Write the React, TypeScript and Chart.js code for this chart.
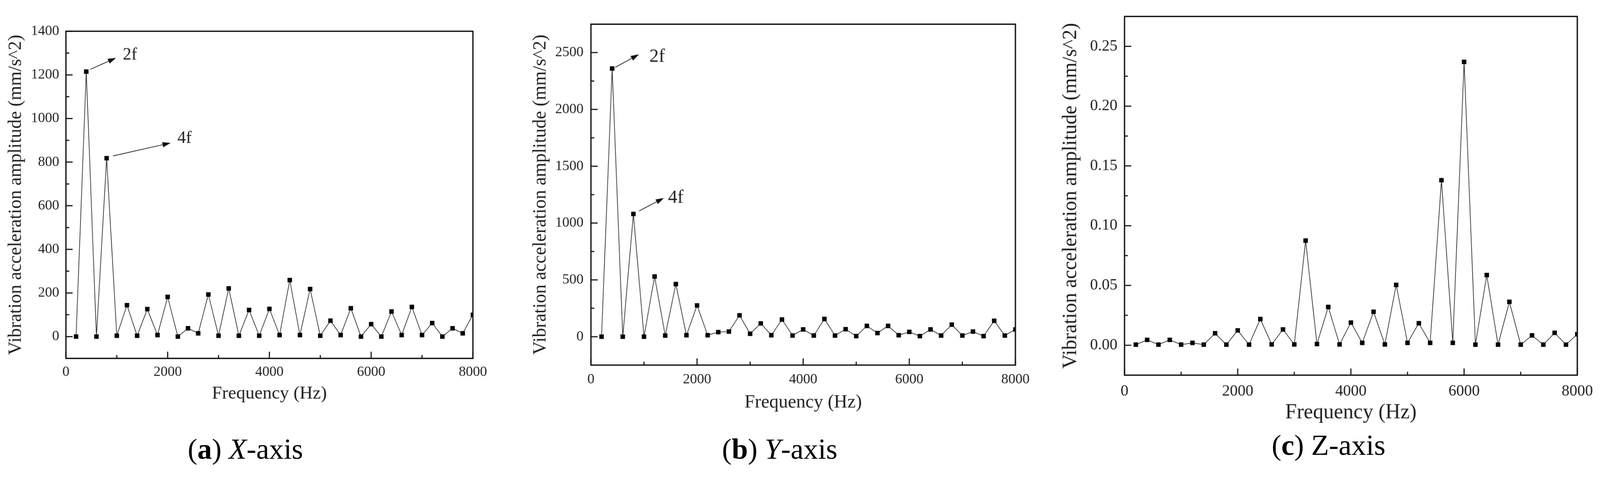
import React, { useEffect, useRef } from 'react';
import { Chart, registerables } from 'chart.js';

Chart.register(...registerables);

// ---------- data ----------
const frequencies = [
  200, 400, 600, 800, 1000, 1200, 1400, 1600, 1800, 2000,
  2200, 2400, 2600, 2800, 3000, 3200, 3400, 3600, 3800, 4000,
  4200, 4400, 4600, 4800, 5000, 5200, 5400, 5600, 5800, 6000,
  6200, 6400, 6600, 6800, 7000, 7200, 7400, 7600, 7800, 8000,
];

const xAxisAmplitude = [
  0, 1215, 0, 818, 4, 144, 4, 126, 7, 182,
  0, 38, 15, 193, 4, 221, 4, 122, 4, 127,
  7, 259, 7, 218, 4, 73, 7, 130, 0, 57,
  0, 115, 7, 136, 7, 62, 0, 38, 15, 100,
];

const yAxisAmplitude = [
  0, 2360, 0, 1080, 0, 530, 10, 463, 13, 275,
  13, 40, 45, 188, 26, 117, 13, 151, 10, 64,
  10, 156, 10, 66, 5, 95, 32, 95, 13, 42,
  5, 64, 10, 106, 10, 45, 5, 140, 10, 64,
];

const zAxisAmplitude = [
  0.0005, 0.0045, 0.0005, 0.0045, 0.0005, 0.002, 0.0005, 0.01, 0.0005, 0.0124,
  0.0005, 0.0219, 0.0007, 0.0132, 0.0007, 0.0875, 0.001, 0.032, 0.0007, 0.019,
  0.002, 0.028, 0.0007, 0.0505, 0.002, 0.0184, 0.002, 0.138, 0.002, 0.237,
  0.0005, 0.0587, 0.0005, 0.0363, 0.0005, 0.0082, 0.0005, 0.0104, 0.0005, 0.0092,
];

const xTickValues = [0, 2000, 4000, 6000, 8000];
const xMinorTickValues = [1000, 3000, 5000, 7000];
const yTicksX = [0, 200, 400, 600, 800, 1000, 1200, 1400];
const yTicksY = [0, 500, 1000, 1500, 2000, 2500];
const yTicksZ = [0, 0.05, 0.1, 0.15, 0.2, 0.25];

const peakFreqsX = [400, 800];
const peakFreqsY = [400, 800];
const peakNames = ['2f', '4f'];

const xTitle = 'Frequency (Hz)';
const yTitle = 'Vibration acceleration amplitude (mm/s^2)';

// ---------- layout / styles ----------
const PAGE_W = 4297;
const PAGE_H = 1273;

type Ann = { freq: number; text: string; start: [number, number]; end: [number, number]; at: [number, number]; size: number };
type Panel = {
  values: number[];
  yTicks: number[];
  yMin: number;
  yMax: number;
  decimals: number;
  canvas: { left: number; top: number; width: number; height: number };
  area: { left: number; top: number; right: number; bottom: number };
  tickFont: number;
  xTickPad: number;
  yTickPad: number;
  yTitleFont: number;
  yTitlePad: number;
  xTitleFont: number;
  xTitlePad: number;
  annotations: Ann[];
};

const SERIF = '"Liberation Serif", "Times New Roman", serif';

const panels: Panel[] = [
  {
    values: xAxisAmplitude,
    yTicks: yTicksX,
    yMin: -100,
    yMax: 1400,
    decimals: 0,
    canvas: { left: 0, top: 0, width: 1400, height: 1140 },
    area: { left: 177, top: 84, right: 1270, bottom: 963 },
    tickFont: 38,
    xTickPad: 14,
    yTickPad: 18,
    yTitleFont: 50,
    yTitlePad: 13,
    xTitleFont: 49,
    xTitlePad: 52,
    annotations: [
      { freq: peakFreqsX[0], text: peakNames[0], start: [11, -6], end: [80, -37], at: [98, -32], size: 46 },
      { freq: peakFreqsX[1], text: peakNames[1], start: [17, -6], end: [172, -41], at: [190, -41], size: 46 },
    ],
  },
  {
    values: yAxisAmplitude,
    yTicks: yTicksY,
    yMin: -250,
    yMax: 2750,
    decimals: 0,
    canvas: { left: 1420, top: 0, width: 1420, height: 1160 },
    area: { left: 1587, top: 65, right: 2727, bottom: 981 },
    tickFont: 38,
    xTickPad: 16,
    yTickPad: 20,
    yTitleFont: 50,
    yTitlePad: 2,
    xTitleFont: 50,
    xTitlePad: 48,
    annotations: [
      { freq: peakFreqsY[0], text: peakNames[0], start: [8, -3], end: [72, -38], at: [100, -18], size: 50 },
      { freq: peakFreqsY[1], text: peakNames[1], start: [15, -8], end: [82, -43], at: [93, -30], size: 50 },
    ],
  },
  {
    values: zAxisAmplitude,
    yTicks: yTicksZ,
    yMin: -0.025,
    yMax: 0.275,
    decimals: 2,
    canvas: { left: 2840, top: 0, width: 1457, height: 1200 },
    area: { left: 3020, top: 29, right: 4240, bottom: 1008 },
    tickFont: 42,
    xTickPad: 19,
    yTickPad: 19,
    yTitleFont: 54,
    yTitlePad: 3,
    xTitleFont: 56,
    xTitlePad: 57,
    annotations: [],
  },
];

const captions = [
  { center: 659, baseline: 1233, label: 'a', axis: 'X', italic: true },
  { center: 2094, baseline: 1233, label: 'b', axis: 'Y', italic: true },
  { center: 3568, baseline: 1222, label: 'c', axis: 'Z', italic: false },
];

function midpoints(vals: number[]): number[] {
  const out: number[] = [];
  for (let i = 0; i < vals.length - 1; i++) out.push((vals[i] + vals[i + 1]) / 2);
  return out;
}

function PanelChart({ p }: { p: Panel }) {
  const ref = useRef<HTMLCanvasElement | null>(null);
  useEffect(() => {
    if (!ref.current) return;
    const frame = {
      id: 'frame',
      afterDraw(chart: any) {
        const { ctx, chartArea: a, scales } = chart;
        const xs = scales.x;
        const ys = scales.y;
        ctx.save();
        ctx.strokeStyle = '#111';
        ctx.lineWidth = 3;
        ctx.lineCap = 'butt';
        ctx.beginPath();
        xTickValues.forEach((v) => {
          const px = xs.getPixelForValue(v);
          ctx.moveTo(px, a.bottom);
          ctx.lineTo(px, a.bottom - 18);
        });
        xMinorTickValues.forEach((v) => {
          const px = xs.getPixelForValue(v);
          ctx.moveTo(px, a.bottom);
          ctx.lineTo(px, a.bottom - 9);
        });
        p.yTicks.forEach((v) => {
          const py = ys.getPixelForValue(v);
          ctx.moveTo(a.left, py);
          ctx.lineTo(a.left + 18, py);
        });
        midpoints(p.yTicks).forEach((v) => {
          const py = ys.getPixelForValue(v);
          ctx.moveTo(a.left, py);
          ctx.lineTo(a.left + 9, py);
        });
        ctx.stroke();
        ctx.lineWidth = 3.5;
        ctx.strokeRect(a.left, a.top, a.right - a.left, a.bottom - a.top);

        p.annotations.forEach((an) => {
          const idx = frequencies.indexOf(an.freq);
          const mx = xs.getPixelForValue(an.freq);
          const my = ys.getPixelForValue(p.values[idx]);
          const sx = mx + an.start[0];
          const sy = my + an.start[1];
          const ex = mx + an.end[0];
          const ey = my + an.end[1];
          const ang = Math.atan2(ey - sy, ex - sx);
          const hl = 22;
          const hw = 7;
          const bx = ex - hl * Math.cos(ang);
          const by = ey - hl * Math.sin(ang);
          ctx.strokeStyle = '#222';
          ctx.lineWidth = 2;
          ctx.beginPath();
          ctx.moveTo(sx, sy);
          ctx.lineTo(bx, by);
          ctx.stroke();
          ctx.fillStyle = '#111';
          ctx.beginPath();
          ctx.moveTo(ex, ey);
          ctx.lineTo(bx + hw * Math.sin(ang), by - hw * Math.cos(ang));
          ctx.lineTo(bx - hw * Math.sin(ang), by + hw * Math.cos(ang));
          ctx.closePath();
          ctx.fill();
          ctx.fillStyle = '#222';
          ctx.font = `${an.size}px ${SERIF}`;
          ctx.textAlign = 'left';
          ctx.textBaseline = 'alphabetic';
          ctx.fillText(an.text, mx + an.at[0], my + an.at[1]);
        });
        ctx.restore();
      },
    };

    const chart = new Chart(ref.current, {
      type: 'line',
      data: {
        datasets: [
          {
            data: frequencies.map((f, i) => ({ x: f, y: p.values[i] })),
            borderColor: '#2a2a2a',
            borderWidth: 1.8,
            pointStyle: 'rect',
            pointRadius: 8.5,
            pointBackgroundColor: '#000',
            pointBorderWidth: 0,
            tension: 0,
            fill: false,
          },
        ],
      },
      options: {
        animation: false,
        responsive: false,
        maintainAspectRatio: false,
        devicePixelRatio: 1,
        events: [],
        layout: {
          padding: {
            left: 0,
            top: p.area.top - p.canvas.top,
            right: p.canvas.left + p.canvas.width - p.area.right,
            bottom: 0,
          },
        },
        plugins: { legend: { display: false }, tooltip: { enabled: false } },
        scales: {
          x: {
            type: 'linear',
            min: 0,
            max: 8000,
            grid: { display: false, drawTicks: false },
            border: { display: false },
            ticks: {
              font: { family: SERIF, size: p.tickFont },
              color: '#222',
              padding: p.xTickPad,
              maxRotation: 0,
              minRotation: 0,
              autoSkip: false,
              callback: (v: any) => String(v),
            },
            afterBuildTicks: (s: any) => {
              s.ticks = xTickValues.map((v) => ({ value: v }));
            },
            afterFit: (s: any) => {
              s.height = p.canvas.top + p.canvas.height - p.area.bottom;
            },
            title: {
              display: true,
              text: xTitle,
              color: '#222',
              font: { family: SERIF, size: p.xTitleFont },
              padding: { top: 0, bottom: p.xTitlePad },
            },
          },
          y: {
            type: 'linear',
            min: p.yMin,
            max: p.yMax,
            grid: { display: false, drawTicks: false },
            border: { display: false },
            ticks: {
              font: { family: SERIF, size: p.tickFont },
              color: '#222',
              padding: p.yTickPad,
              autoSkip: false,
              callback: (v: any) => Number(v).toFixed(p.decimals),
            },
            afterBuildTicks: (s: any) => {
              s.ticks = p.yTicks.map((v) => ({ value: v }));
            },
            afterFit: (s: any) => {
              s.width = p.area.left - p.canvas.left;
            },
            title: {
              display: true,
              text: yTitle,
              color: '#222',
              font: { family: SERIF, size: p.yTitleFont },
              padding: { top: p.yTitlePad, bottom: 0 },
            },
          },
        },
      },
      plugins: [frame],
    } as any);
    return () => chart.destroy();
  }, [p]);

  return (
    <canvas
      ref={ref}
      width={p.canvas.width}
      height={p.canvas.height}
      style={{
        position: 'absolute',
        left: p.canvas.left,
        top: p.canvas.top,
        width: p.canvas.width,
        height: p.canvas.height,
      }}
    />
  );
}

export default function App() {
  const vw = typeof window !== 'undefined' && window.innerWidth ? window.innerWidth : PAGE_W;
  const scale = vw / PAGE_W;
  return (
    <div
      style={{
        position: 'absolute',
        left: 0,
        top: 0,
        width: PAGE_W,
        height: PAGE_H,
        background: '#fff',
        overflow: 'hidden',
        transform: `scale(${scale})`,
        transformOrigin: '0 0',
      }}
    >
      {panels.map((p, i) => (
        <PanelChart key={i} p={p} />
      ))}
      {captions.map((c, i) => (
        <div
          key={'cap' + i}
          style={{
            position: 'absolute',
            left: c.center - 300,
            width: 600,
            top: c.baseline - 65,
            textAlign: 'center',
            fontFamily: SERIF,
            fontSize: 78,
            lineHeight: '78px',
            color: '#000',
            whiteSpace: 'nowrap',
          }}
        >
          (<b>{c.label}</b>) {c.italic ? <i>{c.axis}</i> : c.axis}-axis
        </div>
      ))}
    </div>
  );
}
